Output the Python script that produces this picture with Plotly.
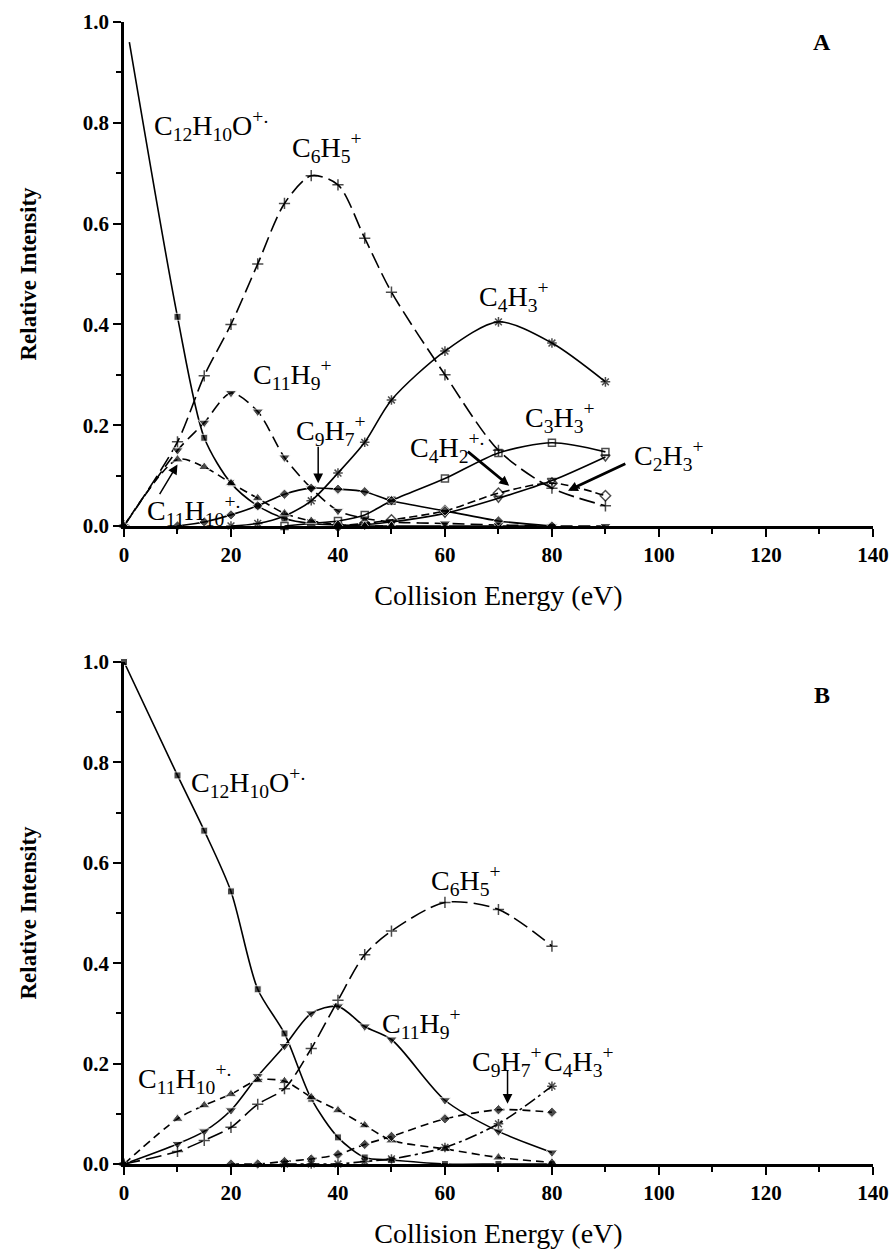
import plotly.graph_objects as go

# ---------------- Panel A data ----------------
A_parent_x = [1, 10, 15, 20, 25, 30, 35, 40, 45, 50, 60, 70, 80]
A_parent_y = [0.96, 0.415, 0.175, 0.085, 0.04, 0.015, 0.005, 0.002, 0, 0, 0, 0, 0]

A_c11h9_x = [0, 10, 15, 20, 25, 30, 35, 40, 45, 50, 60, 70, 80, 90]
A_c11h9_y = [0, 0.15, 0.205, 0.264, 0.227, 0.136, 0.075, 0.03, 0.015, 0.008, 0.005, 0.002, 0, 0]

A_c6h5_x = [0, 10, 15, 20, 25, 30, 35, 40, 45, 50, 60, 70, 80, 90]
A_c6h5_y = [0, 0.167, 0.298, 0.40, 0.52, 0.64, 0.695, 0.677, 0.571, 0.464, 0.30, 0.15, 0.075, 0.04]

A_c4h3_x = [20, 25, 30, 35, 40, 45, 50, 60, 70, 80, 90]
A_c4h3_y = [0, 0.005, 0.02, 0.05, 0.105, 0.166, 0.25, 0.347, 0.405, 0.363, 0.286]

A_c3h3_x = [30, 35, 40, 45, 50, 60, 70, 80, 90]
A_c3h3_y = [0, 0.005, 0.01, 0.022, 0.05, 0.094, 0.145, 0.165, 0.147]

A_c2h3_x = [40, 45, 50, 60, 70, 80, 90]
A_c2h3_y = [0, 0.003, 0.008, 0.025, 0.055, 0.09, 0.137]

A_c4h2_x = [40, 45, 50, 60, 70, 80, 90]
A_c4h2_y = [0, 0.005, 0.012, 0.03, 0.065, 0.085, 0.06]

A_c9h7_x = [10, 15, 20, 25, 30, 35, 40, 45, 50, 60, 70, 80]
A_c9h7_y = [0, 0.008, 0.022, 0.04, 0.063, 0.075, 0.073, 0.068, 0.05, 0.03, 0.01, 0]

A_c11h10_x = [0, 10, 15, 20, 25, 30, 35, 40, 45, 50]
A_c11h10_y = [0, 0.132, 0.117, 0.085, 0.055, 0.025, 0.01, 0.003, 0, 0]

# ---------------- Panel B data ----------------
B_x = [0, 10, 15, 20, 25, 30, 35, 40, 45, 50, 60, 70, 80]
B_parent_y = [1.0, 0.774, 0.664, 0.543, 0.348, 0.26, 0.13, 0.053, 0.013, 0.008, 0, 0, 0]
B_c11h9_y = [0, 0.04, 0.065, 0.107, 0.175, 0.235, 0.30, 0.314, 0.274, 0.248, 0.127, 0.065, 0.023]
B_c11h10_y = [0, 0.09, 0.117, 0.139, 0.167, 0.165, 0.133, 0.107, 0.077, 0.047, 0.03, 0.013, 0.003]
B_c6h5_y = [0, 0.025, 0.047, 0.073, 0.119, 0.15, 0.23, 0.326, 0.417, 0.464, 0.521, 0.507, 0.434]

B_c9h7_x = [20, 25, 30, 35, 40, 45, 50, 60, 70, 80]
B_c9h7_y = [0, 0, 0.005, 0.01, 0.019, 0.039, 0.055, 0.09, 0.108, 0.103]

B_c4h3_x = [30, 35, 40, 45, 50, 60, 70, 80]
B_c4h3_y = [0, 0, 0, 0.005, 0.01, 0.033, 0.08, 0.155]

X_TICKS = [0, 20, 40, 60, 80, 100, 120, 140]

FONT = "Liberation Serif"
BLACK = "black"

fig = go.Figure()


def add(x, y, symbol, dash, xa, ya, size=8, open_=False, first_hidden=False):
    sizes = [size] * len(x)
    if first_hidden:
        sizes[0] = 0
    mk = dict(symbol=symbol, size=sizes, color=BLACK)
    if open_ or symbol in ("cross-thin", "asterisk-open", "x-thin"):
        mk["line"] = dict(color=BLACK, width=1.5)
    fig.add_trace(go.Scatter(
        x=x, y=y, mode="lines+markers", xaxis=xa, yaxis=ya,
        line=dict(color=BLACK, width=1.6, dash=dash, shape="spline", smoothing=0.8),
        marker=mk, showlegend=False, cliponaxis=False))


# Panel A traces
add(A_parent_x, A_parent_y, "square", "solid", "x", "y", 7, first_hidden=True)
add(A_c6h5_x, A_c6h5_y, "cross-thin", "16px,6px", "x", "y", 8)
add(A_c11h9_x, A_c11h9_y, "triangle-down", "12px,6px", "x", "y", 10)
add(A_c4h3_x, A_c4h3_y, "asterisk-open", "solid", "x", "y", 8)
add(A_c3h3_x, A_c3h3_y, "square-open", "solid", "x", "y", 7, True)
add(A_c2h3_x, A_c2h3_y, "triangle-down-open", "solid", "x", "y", 8, True)
add(A_c4h2_x, A_c4h2_y, "diamond-open", "8px,4px", "x", "y", 8, True)
add(A_c9h7_x, A_c9h7_y, "diamond", "solid", "x", "y", 8)
add(A_c11h10_x, A_c11h10_y, "triangle-up", "8px,5px", "x", "y", 10)

# Panel B traces
add(B_x, B_parent_y, "square", "solid", "x2", "y2", 7)
add(B_x, B_c11h9_y, "triangle-down", "solid", "x2", "y2", 10)
add(B_x, B_c11h10_y, "triangle-up", "8px,5px", "x2", "y2", 10)
add(B_x, B_c6h5_y, "cross-thin", "16px,6px", "x2", "y2", 8)
add(B_c9h7_x, B_c9h7_y, "diamond", "8px,5px", "x2", "y2", 8)
add(B_c4h3_x, B_c4h3_y, "asterisk-open", "12px,4px,3px,4px", "x2", "y2", 8)

axis_common = dict(
    showline=True, linecolor=BLACK, linewidth=2.5, mirror=False,
    ticks="outside", ticklen=8, tickwidth=2, tickcolor=BLACK,
    showgrid=False, zeroline=False, automargin=False,
    tickfont=dict(family=FONT, size=21, color=BLACK, weight="bold"),
)

xcommon = dict(axis_common, range=[0, 140.02], tickvals=X_TICKS, ticklabeloverflow="allow",
               minor=dict(dtick=10, tick0=0, ticklen=5, tickwidth=1.5, tickcolor=BLACK, ticks="outside"),
               title=dict(text="Collision Energy (eV)", font=dict(family=FONT, size=28, color=BLACK), standoff=20))
ycommon = dict(axis_common, range=[0, 1.0], dtick=0.2, tick0=0, tickformat=".1f",
               minor=dict(dtick=0.1, ticklen=5, tickwidth=1.5, tickcolor=BLACK, ticks="outside"),
               title=dict(text="<b>Relative Intensity</b>", font=dict(family=FONT, size=23, color=BLACK), standoff=40))

fig.update_layout(
    width=893, height=1250,
    margin=dict(l=124, r=20, t=22, b=86, autoexpand=False),
    paper_bgcolor="white", plot_bgcolor="white",
    font=dict(family=FONT, color=BLACK),
    xaxis=dict(xcommon, anchor="y", domain=[0, 1]),
    yaxis=dict(ycommon, anchor="x", domain=[0.5587, 1]),
    xaxis2=dict(xcommon, anchor="y2", domain=[0, 1]),
    yaxis2=dict(ycommon, anchor="x2", domain=[0, 0.4396]),
)

LF = dict(family=FONT, size=28, color=BLACK)


def label(text, x, y, xr="x", yr="y"):
    fig.add_annotation(text=text, x=x, y=y, xref=xr, yref=yr, xanchor="left",
                       yanchor="middle", showarrow=False, font=LF)


def arrow(x0, y0, x1, y1, xr="x", yr="y", w=1.5, s=1.3):
    fig.add_annotation(x=x1, y=y1, ax=x0, ay=y0, xref=xr, yref=yr, axref=xr, ayref=yr,
                       text="", showarrow=True, arrowhead=2, arrowsize=s,
                       arrowwidth=w, arrowcolor=BLACK)


# Panel A labels
label("C<sub>12</sub>H<sub>10</sub>O<sup>+.</sup>", 5.3, 0.795)
label("C<sub>6</sub>H<sub>5</sub><sup>+</sup>", 31, 0.75)
label("C<sub>11</sub>H<sub>9</sub><sup>+</sup>", 23.7, 0.30)
label("C<sub>9</sub>H<sub>7</sub><sup>+</sup>", 31.7, 0.19)
label("C<sub>4</sub>H<sub>3</sub><sup>+</sup>", 66, 0.455)
label("C<sub>3</sub>H<sub>3</sub><sup>+</sup>", 74.6, 0.215)
label("C<sub>4</sub>H<sub>2</sub><sup>+.</sup>", 53, 0.155)
label("C<sub>2</sub>H<sub>3</sub><sup>+</sup>", 95, 0.14)
label("C<sub>11</sub>H<sub>10</sub><sup>+.</sup>", 4, 0.03)
arrow(36.3, 0.16, 36.3, 0.085)
arrow(64, 0.15, 72, 0.08, w=2.8, s=0.7)
arrow(94, 0.125, 83, 0.07, w=2.8, s=0.7)
arrow(6.5, 0.06, 10, 0.122)
fig.add_annotation(text="<b>A</b>", x=130.5, y=0.96, xref="x", yref="y", showarrow=False,
                   font=dict(family=FONT, size=24, color=BLACK))

# Panel B labels
label("C<sub>12</sub>H<sub>10</sub>O<sup>+.</sup>", 12.2, 0.76, "x2", "y2")
label("C<sub>6</sub>H<sub>5</sub><sup>+</sup>", 57, 0.565, "x2", "y2")
label("C<sub>11</sub>H<sub>9</sub><sup>+</sup>", 47.8, 0.28, "x2", "y2")
label("C<sub>9</sub>H<sub>7</sub><sup>+</sup>", 64.6, 0.205, "x2", "y2")
label("C<sub>4</sub>H<sub>3</sub><sup>+</sup>", 78.2, 0.205, "x2", "y2")
label("C<sub>11</sub>H<sub>10</sub><sup>+.</sup>", 2.3, 0.17, "x2", "y2")
arrow(71.7, 0.19, 71.7, 0.12, "x2", "y2")
fig.add_annotation(text="<b>B</b>", x=130.5, y=0.935, xref="x2", yref="y2", showarrow=False,
                   font=dict(family=FONT, size=24, color=BLACK))

fig.write_html("out.html")
